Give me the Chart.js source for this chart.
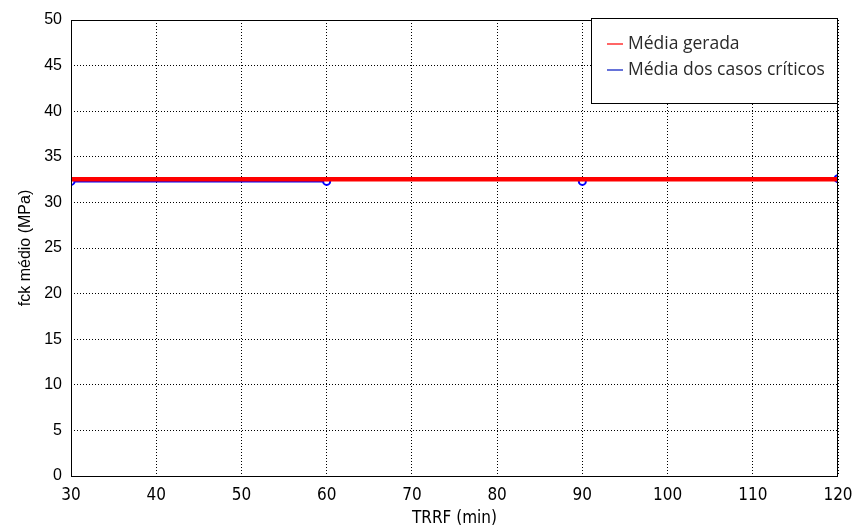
<!DOCTYPE html>
<html>
<head>
<meta charset="utf-8">
<script src="https://cdn.jsdelivr.net/npm/chart.js@4/dist/chart.umd.min.js"></script>
<style>
  html, body { margin: 0; padding: 0; background: #ffffff; }
  #wrap { width: 852px; height: 529px; position: relative; }
</style>
</head>
<body>
<div id="wrap"><canvas id="c" width="852" height="529"></canvas></div>
<script>
// TRRF values (min) and fck averages (MPa)
const trrf = [30, 60, 90, 120];
const mediaGerada = [32.55, 32.55, 32.55, 32.55];
const mediaCriticos = [32.3, 32.3, 32.3, 32.6];
const xTicks = [30, 40, 50, 60, 70, 80, 90, 100, 110, 120];
const yTicks = [0, 5, 10, 15, 20, 25, 30, 35, 40, 45, 50];

const toPoints = (xs, ys) => xs.map((x, i) => ({ x: x, y: ys[i] }));
const narrowFont = '"DejaVu Sans Condensed", "Liberation Sans Narrow", "Liberation Sans", sans-serif';

// Legend box drawn inside the plot area, top right
const boxLegend = {
  id: 'boxLegend',
  afterDraw(chart) {
    const ctx = chart.ctx;
    const area = chart.chartArea;
    const x0 = 591, y0 = 18, x1 = Math.round(area.right), y1 = 104;
    ctx.save();
    ctx.fillStyle = '#ffffff';
    ctx.fillRect(x0, y0, x1 - x0, y1 - y0);
    ctx.strokeStyle = '#000000';
    ctx.lineWidth = 1;
    ctx.strokeRect(x0 + 0.5, y0 + 0.5, x1 - x0 - 1, y1 - y0 - 1);
    const items = chart.data.datasets.slice().reverse();
    ctx.font = '17.5px "Open Sans", "Liberation Sans", sans-serif';
    ctx.textBaseline = 'middle';
    items.forEach((ds, i) => {
      const y = 44 + i * 26;
      ctx.strokeStyle = ds.legendColor;
      ctx.lineWidth = 1.5;
      ctx.beginPath();
      ctx.moveTo(607, y);
      ctx.lineTo(623, y);
      ctx.stroke();
      ctx.fillStyle = '#2a2a2a';
      ctx.fillText(ds.label, 628, y);
    });
    ctx.restore();
  }
};

// Solid frame around the plot area
const frame = {
  id: 'frame',
  afterDatasetsDraw(chart) {
    const ctx = chart.ctx;
    const a = chart.chartArea;
    ctx.save();
    ctx.strokeStyle = '#000000';
    ctx.lineWidth = 1;
    ctx.strokeRect(Math.round(a.left) + 0.5, Math.round(a.top) + 0.5,
                   Math.round(a.right - a.left) - 1, Math.round(a.bottom - a.top));
    ctx.restore();
  }
};

new Chart(document.getElementById('c'), {
  type: 'line',
  data: {
    datasets: [
      {
        label: 'Média dos casos críticos',
        data: toPoints(trrf, mediaCriticos),
        borderColor: '#0000ff',
        legendColor: '#3344cc',
        borderWidth: 2,
        pointRadius: 3.5,
        pointBorderWidth: 2,
        pointBackgroundColor: '#ffffff',
        pointBorderColor: '#0000ff',
        segment: {
          borderColor: c => (c.p0DataIndex >= 1 ? 'rgba(0,0,0,0)' : '#0000ff')
        },
        order: 2
      },
      {
        label: 'Média gerada',
        data: toPoints(trrf, mediaGerada),
        borderColor: '#ff0000',
        legendColor: '#ff3333',
        borderWidth: 4.5,
        pointRadius: 0,
        order: 1
      }
    ]
  },
  options: {
    responsive: false,
    animation: false,
    layout: { padding: { top: 20, right: 14, left: 0, bottom: 0 } },
    plugins: {
      legend: { display: false },
      tooltip: { enabled: false }
    },
    scales: {
      x: {
        type: 'linear',
        min: 30, max: 120,
        afterBuildTicks: s => { s.ticks = xTicks.map(v => ({ value: v })); },
        afterFit: s => { s.height = 53; s.paddingLeft = 0; s.paddingRight = 0; },
        grid: { color: '#000000', lineWidth: 1, drawTicks: false },
        border: { display: false, dash: [1, 2] },
        ticks: {
          color: '#000000',
          padding: 9,
          font: { family: narrowFont, size: 17 }
        },
        title: {
          display: true,
          text: 'TRRF (min)',
          color: '#000000',
          padding: { top: 10, bottom: 0 },
          font: { family: narrowFont, size: 17 }
        }
      },
      y: {
        min: 0, max: 50,
        afterBuildTicks: s => { s.ticks = yTicks.map(v => ({ value: v })); },
        afterFit: s => { s.width = 71; s.paddingTop = 0; s.paddingBottom = 0; },
        grid: { color: '#000000', lineWidth: 1, drawTicks: false },
        border: { display: false, dash: [1, 2] },
        ticks: {
          color: '#000000',
          padding: 9,
          font: { family: '"Liberation Sans", Arial, sans-serif', size: 16 }
        },
        title: {
          display: true,
          text: 'fck médio (MPa)',
          color: '#000000',
          padding: { top: 16, bottom: 0 },
          font: { family: '"Liberation Sans", Arial, sans-serif', size: 16 }
        }
      }
    }
  },
  plugins: [frame, boxLegend]
});
</script>
</body>
</html>
